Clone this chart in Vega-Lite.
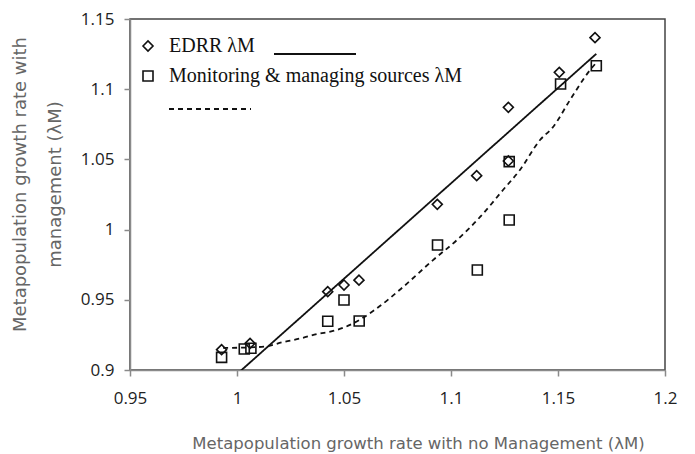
{
  "$schema": "https://vega.github.io/schema/vega-lite/v6.json",
  "width": 535,
  "height": 351,
  "autosize": "none",
  "padding": {"left": 130, "top": 19, "right": 30, "bottom": 84},
  "background": "white",
  "config": {
    "view": {"stroke": "#444", "strokeWidth": 1.5},
    "axis": {
      "grid": false,
      "domainColor": "#8a8a8a",
      "domainWidth": 1.5,
      "tickColor": "#8a8a8a",
      "tickWidth": 1.5,
      "tickSize": 6,
      "labelFont": "Open Sans",
      "labelFontSize": 17,
      "labelColor": "#222",
      "labelFlush": false,
      "titleFont": "DejaVu Sans",
      "titleFontWeight": "normal",
      "titleFontSize": 16,
      "titleColor": "#666"
    }
  },
  "datasets": {
    "pts": [
      {"series": "EDRR λM", "x": 0.9928, "y": 0.9145},
      {"series": "EDRR λM", "x": 1.0061, "y": 0.919},
      {"series": "EDRR λM", "x": 1.0424, "y": 0.9558},
      {"series": "EDRR λM", "x": 1.05, "y": 0.9605},
      {"series": "EDRR λM", "x": 1.057, "y": 0.964},
      {"series": "EDRR λM", "x": 1.0936, "y": 1.018},
      {"series": "EDRR λM", "x": 1.112, "y": 1.0384},
      {"series": "EDRR λM", "x": 1.1268, "y": 1.0871},
      {"series": "EDRR λM", "x": 1.1268, "y": 1.0489},
      {"series": "EDRR λM", "x": 1.1506, "y": 1.112},
      {"series": "EDRR λM", "x": 1.1673, "y": 1.1367},
      {"series": "Monitoring & managing sources λM", "x": 0.9928, "y": 0.909},
      {"series": "Monitoring & managing sources λM", "x": 1.0034, "y": 0.915},
      {"series": "Monitoring & managing sources λM", "x": 1.0065, "y": 0.9155},
      {"series": "Monitoring & managing sources λM", "x": 1.0424, "y": 0.9347},
      {"series": "Monitoring & managing sources λM", "x": 1.05, "y": 0.9499},
      {"series": "Monitoring & managing sources λM", "x": 1.0571, "y": 0.9349},
      {"series": "Monitoring & managing sources λM", "x": 1.0937, "y": 0.989},
      {"series": "Monitoring & managing sources λM", "x": 1.1123, "y": 0.9712},
      {"series": "Monitoring & managing sources λM", "x": 1.1272, "y": 1.0068},
      {"series": "Monitoring & managing sources λM", "x": 1.1272, "y": 1.0484},
      {"series": "Monitoring & managing sources λM", "x": 1.1512, "y": 1.1037},
      {"series": "Monitoring & managing sources λM", "x": 1.1679, "y": 1.1167}
    ],
    "fitA": [
      {"line": "EDRR trend", "x": 0.9928, "y": 0.8873},
      {"line": "EDRR trend", "x": 1.1679, "y": 1.1252}
    ],
    "fitB": [
      {"line": "Monitoring trend", "x": 0.9935, "y": 0.9157},
      {"line": "Monitoring trend", "x": 1.0037, "y": 0.916},
      {"line": "Monitoring trend", "x": 1.0131, "y": 0.9167},
      {"line": "Monitoring trend", "x": 1.0215, "y": 0.9199},
      {"line": "Monitoring trend", "x": 1.0294, "y": 0.9224},
      {"line": "Monitoring trend", "x": 1.0374, "y": 0.9256},
      {"line": "Monitoring trend", "x": 1.0449, "y": 0.9278},
      {"line": "Monitoring trend", "x": 1.0528, "y": 0.9321},
      {"line": "Monitoring trend", "x": 1.0636, "y": 0.942},
      {"line": "Monitoring trend", "x": 1.0776, "y": 0.9591},
      {"line": "Monitoring trend", "x": 1.0916, "y": 0.9783},
      {"line": "Monitoring trend", "x": 1.1028, "y": 0.9926},
      {"line": "Monitoring trend", "x": 1.1136, "y": 1.009},
      {"line": "Monitoring trend", "x": 1.1243, "y": 1.0282},
      {"line": "Monitoring trend", "x": 1.1322, "y": 1.0425},
      {"line": "Monitoring trend", "x": 1.1416, "y": 1.0638},
      {"line": "Monitoring trend", "x": 1.1477, "y": 1.0731},
      {"line": "Monitoring trend", "x": 1.1556, "y": 1.0923},
      {"line": "Monitoring trend", "x": 1.165, "y": 1.1137},
      {"line": "Monitoring trend", "x": 1.1678, "y": 1.1187}
    ]
  },
  "encoding": {
    "x": {
      "field": "x",
      "type": "quantitative",
      "scale": {"domain": [0.95, 1.2], "nice": false, "zero": false},
      "axis": {
        "values": [0.95, 1, 1.05, 1.1, 1.15, 1.2],
        "format": "~g",
        "labelPadding": 14,
        "title": "Metapopulation growth rate with no Management (λM)",
        "titleFontSize": 16.5,
        "titleX": 288,
        "titleY": 73,
        "titleBaseline": "middle",
        "titleAnchor": null
      }
    },
    "y": {
      "field": "y",
      "type": "quantitative",
      "scale": {"domain": [0.9, 1.15], "nice": false, "zero": false},
      "axis": {
        "values": [0.9, 0.95, 1, 1.05, 1.1, 1.15],
        "format": "~g",
        "labelPadding": 10,
        "title": ["Metapopulation growth rate with", "management (λM)"],
        "titleFontSize": 18,
        "titleLineHeight": 35,
        "titleAngle": -90,
        "titleX": -110,
        "titleY": 165,
        "titleAlign": "center",
        "titleBaseline": "middle"
      }
    }
  },
  "layer": [
    {
      "data": {"name": "fitA"},
      "mark": {"type": "line", "clip": true, "color": "#111", "strokeWidth": 1.8},
      "encoding": {
        "strokeDash": {
          "field": "line",
          "type": "nominal",
          "scale": {"domain": ["EDRR trend"], "range": [[1, 0]]},
          "legend": {
            "orient": "none",
            "legendX": 143,
            "legendY": -7,
            "title": null,
            "padding": 0,
            "labelExpr": "''",
            "symbolType": "stroke",
            "symbolSize": 6724,
            "symbolStrokeWidth": 1.8,
            "symbolStrokeColor": "#111"
          }
        }
      }
    },
    {
      "data": {"name": "fitB"},
      "mark": {"type": "line", "clip": true, "color": "#111", "strokeWidth": 1.8, "interpolate": "monotone"},
      "encoding": {
        "strokeDash": {
          "field": "line",
          "type": "nominal",
          "scale": {"domain": ["Monitoring trend"], "range": [[5, 4]]},
          "legend": {
            "orient": "none",
            "legendX": 38,
            "legendY": 48,
            "title": null,
            "padding": 0,
            "labelExpr": "''",
            "symbolType": "stroke",
            "symbolSize": 6724,
            "symbolStrokeWidth": 1.8,
            "symbolStrokeColor": "#111"
          }
        }
      }
    },
    {
      "data": {"name": "pts"},
      "mark": {"type": "point", "filled": false, "color": "#111", "strokeWidth": 1.6, "opacity": 1, "size": 100},
      "encoding": {
        "shape": {
          "field": "series",
          "type": "nominal",
          "scale": {"domain": ["EDRR λM", "Monitoring & managing sources λM"], "range": ["diamond", "square"]},
          "legend": {
            "orient": "none",
            "legendX": 8,
            "legendY": 17,
            "title": null,
            "padding": 0,
            "labelFont": "Liberation Serif",
            "labelFontSize": 20,
            "labelColor": "#111",
            "labelOffset": 11,
            "labelLimit": 500,
            "rowPadding": 10,
            "symbolSize": 100,
            "symbolStrokeWidth": 1.6,
            "symbolStrokeColor": "#111",
            "symbolFillColor": "white"
          }
        }
      }
    }
  ],
  "resolve": {"scale": {"strokeDash": "independent"}, "legend": {"strokeDash": "independent"}}
}
